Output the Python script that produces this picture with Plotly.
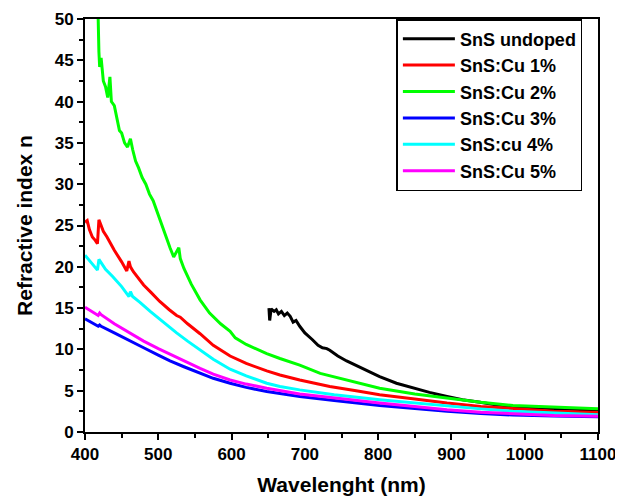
import plotly.graph_objects as go

x_undoped = [651, 652, 654, 658, 661, 664, 668, 672, 676, 680, 684, 688, 693, 700, 710, 718, 724, 730, 734, 745, 757, 780, 802, 825, 848, 870, 894, 915, 939, 960, 984, 1040, 1100]
n_undoped = [15.0, 13.5, 14.9, 14.6, 14.8, 14.3, 14.6, 14.1, 14.4, 14.0, 13.3, 13.5, 12.8, 12.0, 11.2, 10.5, 10.2, 10.1, 9.9, 9.2, 8.6, 7.6, 6.7, 5.9, 5.3, 4.8, 4.3, 3.9, 3.6, 3.3, 3.1, 2.8, 2.65]

x_cu1 = [400, 403, 406, 410, 414, 417, 419, 421, 425, 430, 440, 450, 457, 460, 462, 466, 471, 480, 490, 502, 515, 525, 530, 540, 557, 575, 598, 620, 648, 666, 693, 734, 770, 802, 850, 894, 940, 984, 1040, 1100]
n_cu1 = [25.4, 25.6, 24.5, 23.6, 23.2, 22.8, 25.7, 25.3, 24.3, 23.6, 22.0, 20.6, 19.5, 20.7, 20.0, 19.4, 18.8, 17.8, 16.9, 15.8, 14.8, 14.1, 13.9, 13.1, 11.9, 10.5, 9.2, 8.3, 7.4, 6.9, 6.3, 5.5, 5.0, 4.5, 4.0, 3.5, 3.1, 2.8, 2.5, 2.35]

x_cu2 = [415, 418, 419, 420, 422, 425, 428, 431, 434, 436, 440, 443, 447, 450, 454, 458, 462, 465, 469, 473, 478, 483, 488, 493, 500, 508, 516, 521, 525, 528, 530, 535, 545, 557, 570, 585, 598, 605, 620, 635, 648, 666, 693, 721, 760, 802, 850, 894, 940, 984, 1040, 1100]
n_cu2 = [53, 50, 46, 44.2, 45.3, 42.5, 41.8, 40.5, 43.0, 40.0, 39.5, 38.0, 36.5, 36.2, 35.0, 34.5, 35.5, 34.2, 32.8, 32.0, 30.8, 30.0, 28.8, 28.0, 26.2, 24.2, 22.3, 21.2, 21.8, 22.3, 21.0, 19.8, 17.9, 16.0, 14.4, 13.1, 12.2, 11.4, 10.6, 10.0, 9.5, 8.9, 8.1, 7.1, 6.2, 5.3, 4.6, 4.1, 3.6, 3.2, 3.0, 2.8]

x_cu3 = [400, 410, 418, 420, 422, 440, 461, 480, 500, 516, 535, 557, 575, 598, 620, 648, 693, 740, 802, 850, 894, 940, 984, 1040, 1100]
n_cu3 = [13.7, 13.2, 12.8, 12.95, 12.8, 12.0, 11.1, 10.2, 9.3, 8.6, 7.9, 7.1, 6.5, 5.9, 5.4, 4.9, 4.3, 3.8, 3.2, 2.85, 2.5, 2.25, 2.05, 1.95, 1.85]

x_cu4 = [400, 405, 410, 417, 419, 421, 428, 438, 450, 460, 462, 465, 475, 489, 505, 525, 540, 557, 575, 598, 620, 648, 666, 693, 740, 802, 850, 894, 940, 984, 1040, 1100]
n_cu4 = [21.4, 20.9, 20.3, 19.6, 20.9, 20.6, 19.7, 18.8, 17.6, 16.4, 17.0, 16.4, 15.7, 14.6, 13.4, 12.0, 11.0, 9.9, 8.8, 7.6, 6.8, 5.9, 5.5, 5.1, 4.5, 3.9, 3.5, 3.1, 2.8, 2.5, 2.3, 2.1]

x_cu5 = [400, 410, 418, 420, 422, 440, 461, 480, 500, 516, 535, 557, 575, 598, 620, 648, 693, 740, 802, 850, 894, 940, 984, 1040, 1100]
n_cu5 = [15.1, 14.6, 14.1, 14.4, 14.2, 13.1, 12.0, 11.0, 10.1, 9.4, 8.6, 7.7, 7.0, 6.3, 5.8, 5.3, 4.6, 4.1, 3.5, 3.1, 2.7, 2.4, 2.2, 2.0, 1.9]

series = [
    ("SnS undoped", x_undoped, n_undoped, "#000000"),
    ("SnS:Cu 1%", x_cu1, n_cu1, "#FF0000"),
    ("SnS:Cu 2%", x_cu2, n_cu2, "#00FF00"),
    ("SnS:Cu 3%", x_cu3, n_cu3, "#0000FF"),
    ("SnS:cu 4%", x_cu4, n_cu4, "#00FFFF"),
    ("SnS:Cu 5%", x_cu5, n_cu5, "#FF00FF"),
]

fig = go.Figure()
for name, xs, ys, col in series:
    fig.add_trace(go.Scatter(x=xs, y=ys, name=name, mode="lines",
                             line=dict(color=col, width=3)))

font = "Liberation Sans, Arial, sans-serif"
axis_common = dict(
    showline=True, linecolor="black", linewidth=2, mirror=True,
    ticks="outside", ticklen=6, tickwidth=2, tickcolor="black",
    showgrid=False, zeroline=False, automargin=False,
    tickfont=dict(family=font, size=17, color="black", weight="bold"),
)
fig.update_xaxes(range=[400, 1100], tick0=400, dtick=100,
                 minor=dict(ticks="outside", ticklen=4, tickwidth=1.5, tickcolor="black", dtick=50),
                 title=dict(text="Wavelenght (nm)", font=dict(family=font, size=21, color="black", weight="bold"), standoff=14),
                 **axis_common)
fig.update_yaxes(range=[0, 50], tick0=0, dtick=5,
                 minor=dict(ticks="outside", ticklen=4, tickwidth=1.5, tickcolor="black", dtick=2.5),
                 title=dict(text="Refractive index n", font=dict(family=font, size=21, color="black", weight="bold"), standoff=16),
                 **axis_common)

fig.update_layout(
    width=615, height=491,
    margin=dict(l=77, r=25, t=11, b=67),
    plot_bgcolor="white", paper_bgcolor="white",
    legend=dict(x=0.607, y=1.0, xanchor="left", yanchor="top",
                bordercolor="black", borderwidth=1.5, bgcolor="white",
                font=dict(family=font, size=18, color="black", weight="bold"),
                itemwidth=52, tracegroupgap=0),
)
fig.write_html("out.html")
